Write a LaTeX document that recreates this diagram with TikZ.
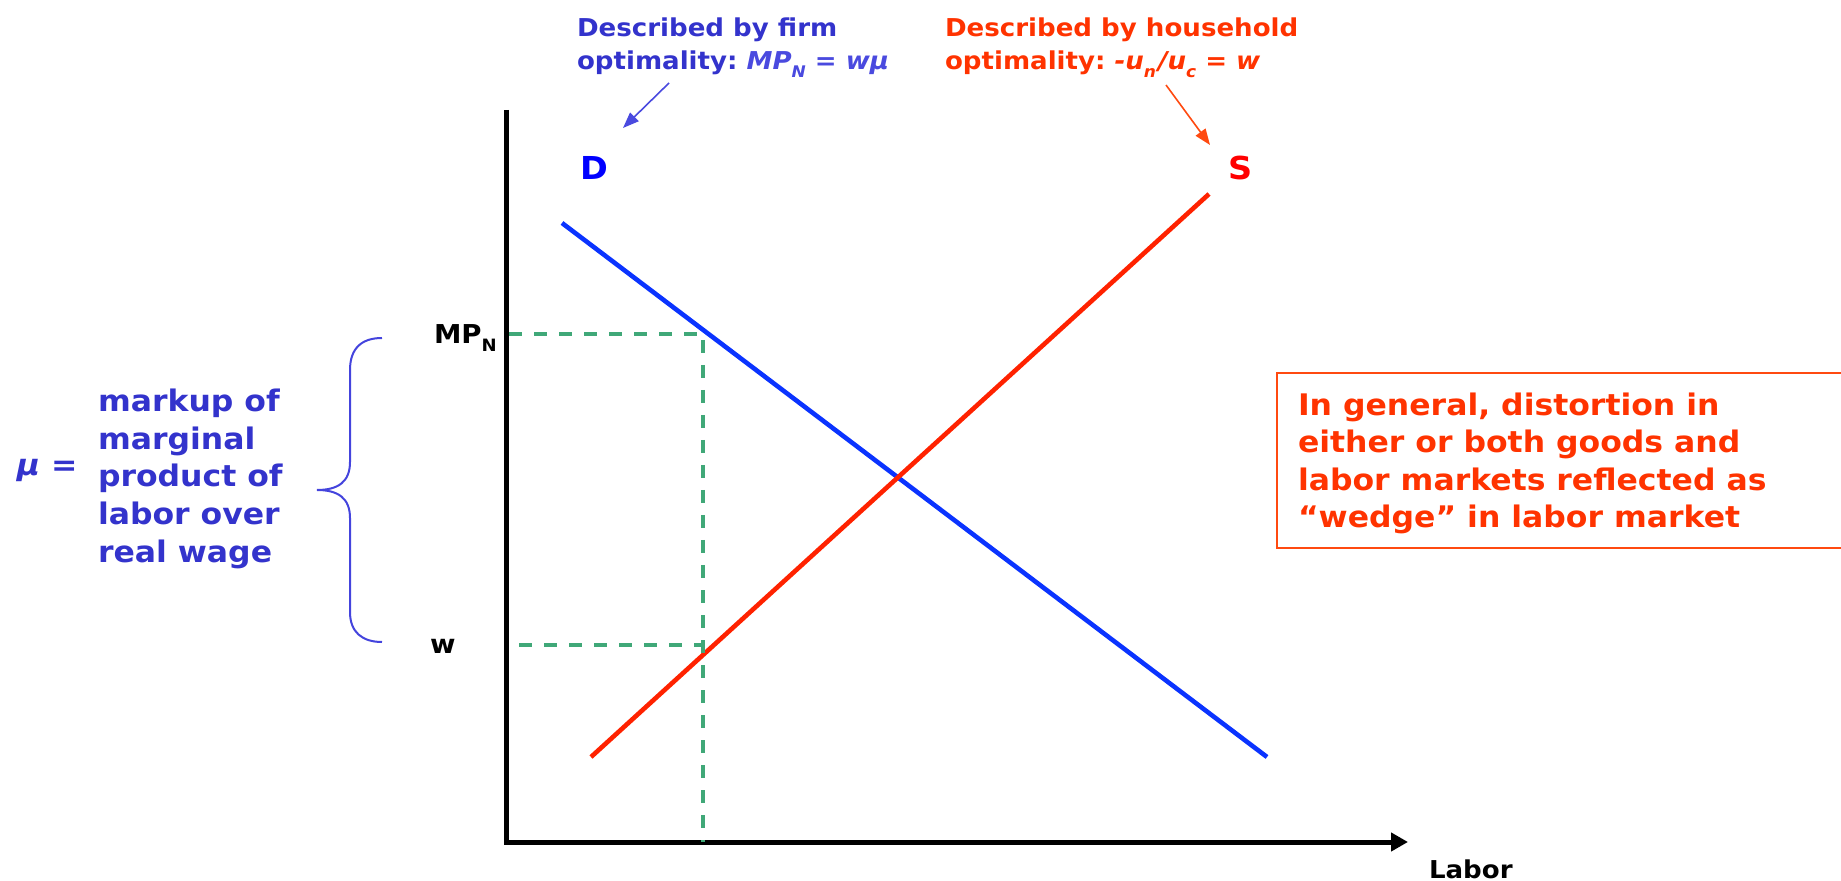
\documentclass[tikz,border=0pt]{standalone}
\usepackage{fontspec}
\setmainfont[FakeStretch=1.06]{DejaVu Sans}
\usetikzlibrary{arrows.meta}
\definecolor{dblue}{RGB}{10,51,255}
\definecolor{sred}{RGB}{255,34,0}
\definecolor{tblue}{RGB}{51,51,204}
\definecolor{fblue}{RGB}{74,74,223}
\definecolor{tred}{RGB}{255,51,0}
\definecolor{boxred}{RGB}{255,74,16}
\definecolor{dgreen}{RGB}{64,168,120}
\definecolor{bracecol}{RGB}{68,68,221}
\newcommand\lowsub[1]{\raisebox{-0.3em}{\fontsize{8.5}{9}\selectfont #1}}
\newcommand\tsub[1]{\raisebox{-0.3em}{\fontsize{8}{9}\selectfont #1}}
\begin{document}
\begin{tikzpicture}[x=0.5pt,y=-0.5pt,
  txt/.style={inner sep=0pt, outer sep=0pt, anchor=base west, align=left},
  titlefont/.style={font=\fontsize{12.3}{16.5}\selectfont\bfseries},
  bigfont/.style={font=\fontsize{14.85}{18.8}\selectfont\bfseries},
  axlab/.style={font=\fontsize{13}{15}\selectfont\bfseries},
  curvelab/.style={font=\fontsize{15.8}{18}\selectfont\bfseries, inner sep=0pt},
  axisline/.style={line width=2.5pt, -{Triangle[width=9pt,length=8.5pt]}},
  guide/.style={dgreen, line width=1.8pt, dash pattern=on 6.5pt off 6pt},
  pointer/.style={line width=0.8pt, -{Triangle[width=6pt,length=8pt]}}
]
\useasboundingbox (0,0) rectangle (1841,881);
\clip (0,0) rectangle (1841,881);

% axes
\coordinate (ytop) at (506,110);
\coordinate (origin) at (506,842);
\coordinate (xend) at (1408,842);
\draw[axisline] (ytop) |- (xend);

% curves
\coordinate (D1) at (562,223);
\coordinate (D2) at (1267,757);
\coordinate (S1) at (591,757);
\coordinate (S2) at (1209,194);
\draw[dblue, line width=2.3pt] (D1) -- (D2);
\draw[sred, line width=2.3pt] (S1) -- (S2);

% dashed guides
\coordinate (mpL) at (509,334);
\coordinate (mpR) at (703,334);
\coordinate (wL) at (519,645);
\coordinate (wR) at (703,645);
\coordinate (xfoot) at (703,842);
\draw[guide] (mpL) -- (mpR) -- (xfoot);
\draw[guide] (wL) -- (wR);

% axis labels
\node[txt, axlab] (mpn) at (434,344) {MP\lowsub{N}};
\node[txt, axlab] (wlab) at (430,653) {w};
\node[txt, font=\fontsize{12.3}{14}\selectfont\bfseries] (labor) at (1429,878) {Labor};

% curve labels
\node[curvelab, text=blue] (Dlab) at (594,168) {D};
\node[curvelab, text=red] (Slab) at (1241,168) {S};

% titles (base anchor = baseline of last line)
\node[txt, titlefont, text=tblue] (firm) at (577,70)
  {Described by firm\\optimality:\ \textcolor{fblue}{\itshape MP\tsub{N} = wμ}};
\node[txt, titlefont, text=tred] (house) at (945,70)
  {Described by household\\optimality:\ {\itshape -u\tsub{n}\kern1pt/u\tsub{c} = w}};
\coordinate (fa) at (669,83);
\coordinate (ha) at (1166,85);
\draw[pointer, fblue] (fa) -- (623,128);
\draw[pointer, boxred] (ha) -- (1210,145);

% brace and markup text
\draw[bracecol, line width=1pt]
  (382,338) .. controls (362,338) and (350,348) .. (350,370) -- (350,462)
  .. controls (350,482) and (338,490) .. (317,490)
  .. controls (338,490) and (350,498) .. (350,518) -- (350,612)
  .. controls (350,632) and (362,642) .. (382,642);
\node[txt, bigfont, text=tblue] (mu) at (17,476) {\itshape μ\upshape\ =};
\node[txt, bigfont, text=tblue] (markup) at (98,562)
  {markup of\\marginal\\product of\\labor over\\real wage};

% right box
\draw[boxred, line width=1pt] (1900,373) -| (1277,548) -- (1900,548);
\node[txt, bigfont, text=tred] (wedge) at (1298,528)
  {In general, distortion in\\either or both goods and\\labor markets reflected as\\“wedge” in labor market};
\end{tikzpicture}
\end{document}
